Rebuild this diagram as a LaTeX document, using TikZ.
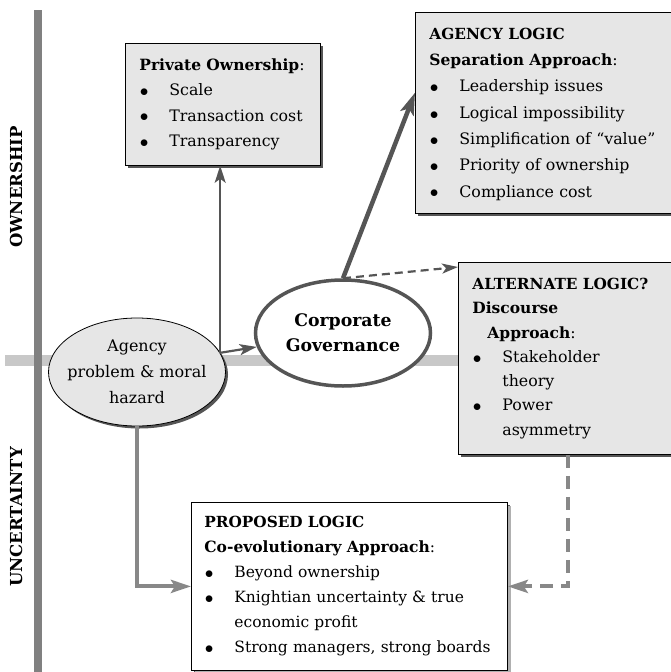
\documentclass[tikz,border=0pt]{standalone}
\usepackage{fontspec}
\setmainfont{DejaVu Serif}
\usepackage{tikz}
\usetikzlibrary{arrows.meta,calc,shapes.geometric,shadows}
\definecolor{bargray}{RGB}{128,128,128}
\definecolor{axisgray}{RGB}{200,200,200}
\definecolor{linegray}{RGB}{85,85,85}
\definecolor{boxgray}{RGB}{230,230,230}
\definecolor{pathgray}{RGB}{136,136,136}
\definecolor{shadegray}{RGB}{176,176,176}
\newcommand{\bpt}{\makebox[30pt][l]{\hspace{0.5pt}\raisebox{-0.8pt}{\fontsize{19}{19}\selectfont$\bullet$}}}
\newcommand{\cnt}{\hspace*{30pt}}
\newcommand{\hd}[1]{{\fontsize{15.3}{15}\selectfont\textbf{#1}}}
\newcommand{\subhd}[1]{\mbox{\fontsize{15.5}{15}\selectfont\textbf{#1}}}

\begin{document}
\begin{tikzpicture}[
    x=1pt, y=1pt,
    infobox/.style={draw, line width=0.8pt, fill=boxgray, anchor=north west,
                    align=left, inner xsep=14pt, inner ysep=0pt,
                    drop shadow={shadow xshift=2.5pt, shadow yshift=-2.5pt,
                                 fill=linegray, opacity=1}},
    logicbox/.style={infobox, fill=white, inner xsep=13pt,
                    drop shadow={shadow xshift=4pt, shadow yshift=-4pt,
                                 fill=shadegray, opacity=1}},
    agellipse/.style={ellipse, draw, line width=0.8pt, fill=boxgray,
                    minimum width=177pt, minimum height=108pt,
                    inner xsep=-20pt, inner ysep=0pt, align=center,
                    font=\fontsize{16}{26}\selectfont,
                    drop shadow={shadow xshift=2.5pt, shadow yshift=-2.5pt,
                                 fill=linegray, opacity=1}},
    cgellipse/.style={ellipse, draw=linegray, line width=3.5pt, fill=white,
                    minimum width=175pt, minimum height=106pt,
                    inner xsep=-20pt, inner ysep=0pt, align=center,
                    font=\bfseries\fontsize{17.3}{25}\selectfont},
    axislabel/.style={rotate=90, font=\bfseries\fontsize{16.5}{20}\selectfont},
    thinarrow/.style={-{Stealth[length=17pt, width=11pt, inset=4pt]},
                    line width=2.2pt, draw=linegray},
    heavyarrow/.style={-{Stealth[length=22pt, width=14pt, inset=5pt]},
                    line width=4.5pt, draw=linegray},
    dasharrow/.style={-{Stealth[length=16pt, width=10pt, inset=4pt]},
                    line width=2.2pt, draw=linegray, dash pattern=on 8pt off 5pt},
    graypath/.style={-{Stealth[length=20pt, width=13pt, inset=4pt]},
                    line width=4pt, draw=pathgray},
    graydash/.style={graypath, dash pattern=on 13pt off 8pt}
]
\useasboundingbox (0,0) rectangle (671,-672);

\fill[axisgray] (5,-355) rectangle (671,-366);
\fill[bargray] (34,-10) rectangle (42,-672);

\node[axislabel] (own) at (16,-187) {OWNERSHIP};
\node[axislabel] (unc) at (16,-517) {UNCERTAINTY};

\node[infobox, text width=167pt, minimum height=122pt,
      font=\fontsize{15.8}{25.3}\selectfont] (pvt) at (125,-43)
  {\subhd{Private Ownership}:\\
   \bpt Scale\\
   \bpt Transaction cost\\
   \bpt Transparency};

\node[infobox, text width=235pt, minimum height=201pt,
      font=\fontsize{15.8}{26.3}\selectfont] (agl) at (415,-12)
  {\rule{0pt}{14pt}\hd{AGENCY LOGIC}\\
   \subhd{Separation Approach}:\\
   \bpt Leadership issues\\
   \bpt Logical impossibility\\
   \bpt Simplification of “value”\\
   \bpt Priority of ownership\\
   \bpt Compliance cost};

\node[infobox, text width=192pt, minimum height=192pt,
      font=\fontsize{15.8}{24.3}\selectfont] (alt) at (458,-262)
  {\hd{ALTERNATE LOGIC?}\\
   \subhd{Discourse}\\
   \hspace*{15pt}\subhd{Approach}:\\
   \bpt Stakeholder\\
   \cnt theory\\
   \bpt Power\\
   \cnt asymmetry};

\node[logicbox, text width=290pt, minimum height=168pt,
      font=\fontsize{15.5}{25}\selectfont] (pl) at (191,-502)
  {\hd{PROPOSED LOGIC}\\
   \subhd{Co-evolutionary Approach}:\\
   \bpt Beyond ownership\\
   \bpt Knightian uncertainty \& true\\
   \cnt economic profit\\
   \bpt Strong managers, strong boards};

\node[agellipse] (ag) at (137,-372) {Agency\\problem \& moral\\hazard};
\node[cgellipse] (cg) at (343,-333) {Corporate\\Governance};

\coordinate (fork) at (ag.13.5);
\draw[thinarrow] (fork) -- (fork |- pvt.south);
\draw[thinarrow] (fork) -- (cg);
\draw[heavyarrow] (cg.north) -- ($(agl.north west)!0.4!(agl.south west)$);
\draw[dasharrow] (cg.north) -- ($(alt.north west)+(0,-5)$);
\draw[graypath] (ag.south) |- (pl.west);
\draw[graydash] (alt.south) |- (pl.east);
\end{tikzpicture}
\end{document}
